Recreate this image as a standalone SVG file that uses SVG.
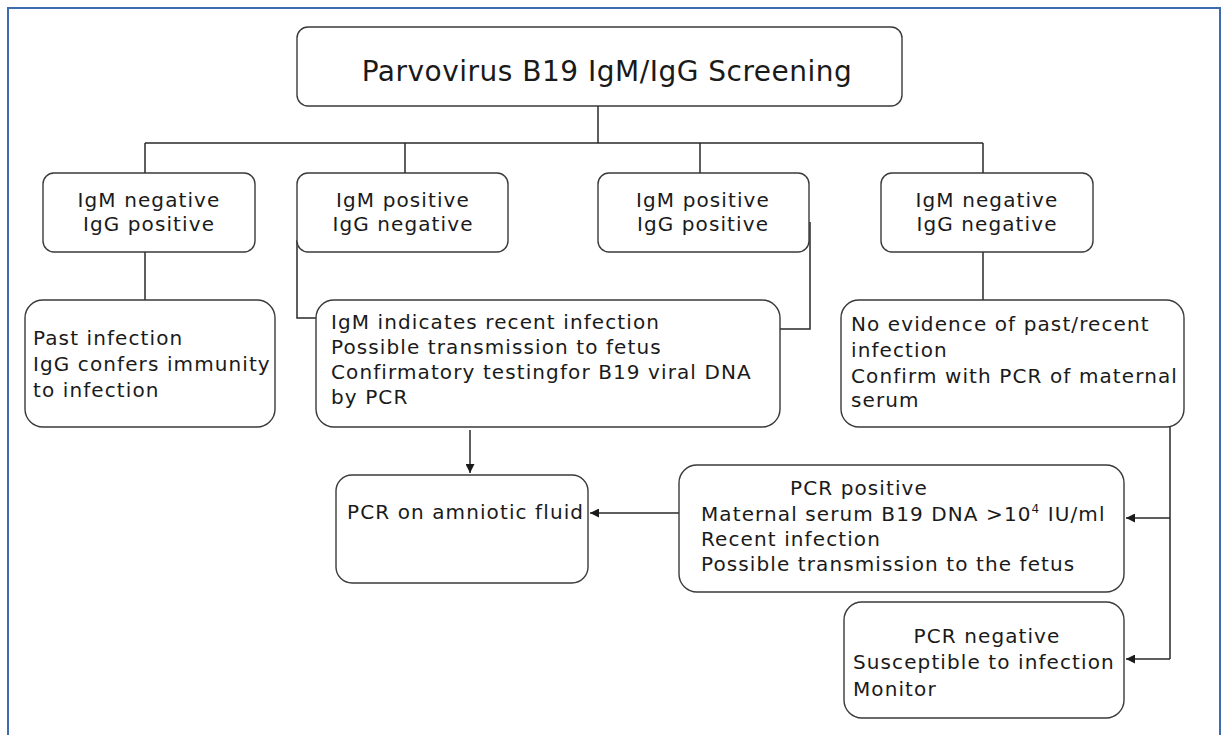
<svg xmlns="http://www.w3.org/2000/svg" width="1222" height="735" viewBox="0 0 1222 735">
<style>
.box{fill:#fff;stroke:#3a3a3a;stroke-width:1.4}
.ln{fill:none;stroke:#2a2a2a;stroke-width:1.5}
text{font-family:"DejaVu Sans","Liberation Sans",sans-serif;font-size:20px;letter-spacing:1.1px;fill:#1a1a1a}
.c{text-anchor:middle}
.t{font-size:28px;letter-spacing:0.5px}
</style>
<defs>
<marker id="ah" viewBox="0 0 10 10" refX="10" refY="5" markerWidth="9" markerHeight="9" markerUnits="userSpaceOnUse" orient="auto">
<path d="M0,0 L10,5 L0,10 z" fill="#1a1a1a"/>
</marker>
</defs>
<rect x="0" y="0" width="1222" height="735" fill="#fff"/>
<path d="M8,740 V8 H1220 V740" fill="none" stroke="#3d6db0" stroke-width="2"/>
<g id="connectors">
<path class="ln" d="M598,106 V143 M145,143 H983 M145,143 V173 M405,143 V173 M700,143 V173 M983,143 V173"/>
<path class="ln" d="M145,252 V300"/>
<path class="ln" d="M983,252 V300"/>
<path class="ln" d="M297,240 V318 H316"/>
<path class="ln" d="M810,222 V329 H780"/>
<path class="ln" d="M470,430 V473" marker-end="url(#ah)"/>
<path class="ln" d="M679,513 H590" marker-end="url(#ah)"/>
<path class="ln" d="M1170,427 V659 M1170,518 H1126" marker-end="url(#ah)"/>
<path class="ln" d="M1170,659 H1126" marker-end="url(#ah)"/>
</g>
<g id="title">
<rect class="box" x="297" y="27" width="605" height="79" rx="11"/>
<text class="c t" x="607" y="81">Parvovirus B19 IgM/IgG Screening</text>
</g>
<g id="igm-neg-igg-pos">
<rect class="box" x="43" y="173" width="212" height="79" rx="11"/>
<text class="c" x="149" y="207">IgM negative</text>
<text class="c" x="149" y="231">IgG positive</text>
</g>
<g id="igm-pos-igg-neg">
<rect class="box" x="297" y="173" width="211" height="79" rx="11"/>
<text class="c" x="403" y="207">IgM positive</text>
<text class="c" x="403" y="231">IgG negative</text>
</g>
<g id="igm-pos-igg-pos">
<rect class="box" x="598" y="173" width="211" height="79" rx="11"/>
<text class="c" x="703" y="207">IgM positive</text>
<text class="c" x="703" y="231">IgG positive</text>
</g>
<g id="igm-neg-igg-neg">
<rect class="box" x="881" y="173" width="212" height="79" rx="11"/>
<text class="c" x="987" y="207">IgM negative</text>
<text class="c" x="987" y="231">IgG negative</text>
</g>
<g id="past-infection">
<rect class="box" x="25" y="300" width="250" height="127" rx="18"/>
<text x="33" y="345">Past infection</text>
<text x="33" y="371">IgG confers immunity</text>
<text x="33" y="397">to infection</text>
</g>
<g id="recent-infection">
<rect class="box" x="316" y="300" width="464" height="127" rx="18"/>
<text x="331" y="329">IgM indicates recent infection</text>
<text x="331" y="354">Possible transmission to fetus</text>
<text x="331" y="379">Confirmatory testingfor B19 viral DNA</text>
<text x="331" y="404">by PCR</text>
</g>
<g id="no-evidence">
<rect class="box" x="841" y="300" width="343" height="127" rx="18"/>
<text x="851" y="331">No evidence of past/recent</text>
<text x="851" y="357">infection</text>
<text x="851" y="383">Confirm with PCR of maternal</text>
<text x="851" y="407">serum</text>
</g>
<g id="pcr-amniotic">
<rect class="box" x="336" y="475" width="252" height="108" rx="16"/>
<text x="347" y="519">PCR on amniotic fluid</text>
</g>
<g id="pcr-positive">
<rect class="box" x="679" y="465" width="445" height="127" rx="18"/>
<text class="c" x="859" y="495">PCR positive</text>
<text x="701" y="521">Maternal serum B19 DNA &gt;10<tspan font-size="12" dy="-8">4</tspan><tspan dy="8"> IU/ml</tspan></text>
<text x="701" y="546">Recent infection</text>
<text x="701" y="571">Possible transmission to the fetus</text>
</g>
<g id="pcr-negative">
<rect class="box" x="844" y="602" width="280" height="116" rx="18"/>
<text class="c" x="987" y="643">PCR negative</text>
<text x="853" y="669">Susceptible to infection</text>
<text x="853" y="696">Monitor</text>
</g>
</svg>
